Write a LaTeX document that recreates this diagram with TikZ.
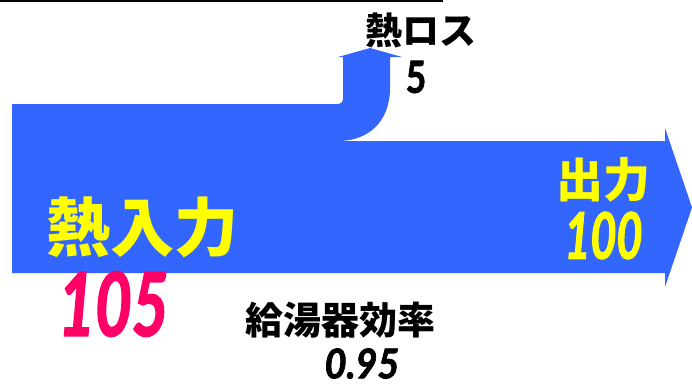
\documentclass[tikz,border=0pt]{standalone}
\usepackage{fontspec}
\newfontfamily\jp{Noto Sans CJK JP}
\newfontfamily\num{Lato}[BoldItalicFeatures={FakeBold=2},BoldFeatures={FakeBold=2}]
\definecolor{flowblue}{RGB}{51,102,255}
\definecolor{numpink}{RGB}{255,0,102}
\definecolor{labyellow}{RGB}{255,255,0}
\begin{document}
\begin{tikzpicture}[x=1pt,y=-1pt,
  lab/.style={inner sep=0pt,anchor=center},
  jplab/.style={lab,font=\jp\bfseries},
  numlab/.style={lab,font=\num\bfseries\itshape}]
\useasboundingbox (0,0) rectangle (692,384);
\coordinate (lineL) at (0,1);
\coordinate (lineR) at (443,1);
\draw[line width=2pt] (lineL) -- (lineR);
% flow shape
\fill[flowblue] (12,104) -- (337,104) .. controls (341,104) and (343,102) .. (343,98)
  -- (343,57) -- (338,57) -- (370,48) -- (402,57) -- (390,57) -- (390,88)
  .. controls (390,122) and (368,141) .. (338,141)
  -- (665,141) -- (665,128) -- (692,207.5) -- (665,287) -- (665,273) -- (12,273) -- cycle;
% labels
\node[jplab,text=labyellow,font=\jp\bfseries\fontsize{64}{64}\selectfont] (in) at (142,227.5) {熱入力};
\node[numlab,text=numpink,font=\num\bfseries\itshape\fontsize{88}{88}\selectfont] (inv) at (113.5,304) {\scalebox{0.72}[1]{105}};
\node[jplab,text=black,font=\jp\bfseries\fontsize{37}{37}\selectfont] (loss) at (421,30) {熱ロス};
\node[lab,text=black,font=\num\bfseries\fontsize{44}{44}\selectfont] (lossv) at (416,77) {\scalebox{0.8}[1]{5}};
\node[jplab,text=labyellow,font=\jp\bfseries\fontsize{47}{47}\selectfont] (out) at (603,179.5) {出力};
\node[numlab,text=labyellow,font=\num\bfseries\itshape\fontsize{64}{64}\selectfont] (outv) at (603.5,235.5) {\scalebox{0.7}[1]{100}};
\node[jplab,text=black,font=\jp\bfseries\fontsize{38}{38}\selectfont] (eff) at (340.5,320) {給湯器効率};
\node[numlab,text=black,font=\num\bfseries\itshape\fontsize{41}{41}\selectfont] (effv) at (362,363.5) {\scalebox{0.92}[1]{0.95}};
\end{tikzpicture}
\end{document}
